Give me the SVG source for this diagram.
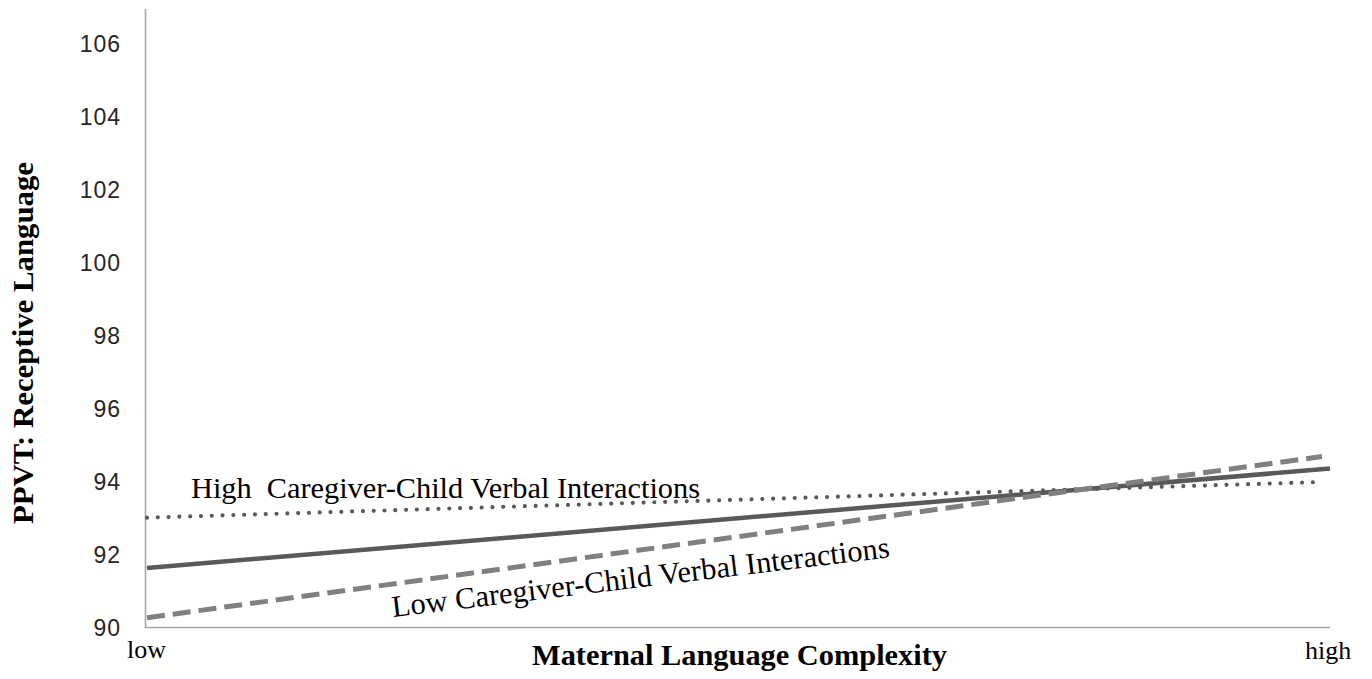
<svg xmlns="http://www.w3.org/2000/svg" width="1372" height="679" viewBox="0 0 1372 679">
<style>
.tick{font-family:"Liberation Sans",Arial,sans-serif;font-size:23px;fill:#262626;text-anchor:end;letter-spacing:1px}
.lbl{font-family:"Liberation Serif","Times New Roman",serif;font-size:30.4px;fill:#000}
.title{font-family:"Liberation Serif","Times New Roman",serif;font-size:30px;font-weight:bold;fill:#000}
.cat{font-family:"Liberation Serif","Times New Roman",serif;font-size:26px;fill:#000}
.axis{stroke:#a6a6a6;stroke-width:1.6;fill:none}
</style>
<rect width="1372" height="679" fill="#fff"/>
<g id="axes">
<line class="axis" x1="145.5" y1="9" x2="145.5" y2="628"/>
<line class="axis" x1="145" y1="627.5" x2="1330" y2="627.5"/>
</g>
<g id="y-ticks">
<text class="tick" x="121" y="51.5">106</text>
<text class="tick" x="121" y="124.5">104</text>
<text class="tick" x="121" y="197.5">102</text>
<text class="tick" x="121" y="270.5">100</text>
<text class="tick" x="121" y="343.5">98</text>
<text class="tick" x="121" y="416.5">96</text>
<text class="tick" x="121" y="489.5">94</text>
<text class="tick" x="121" y="562.5">92</text>
<text class="tick" x="121" y="635.5">90</text>
</g>
<g id="series">
<line x1="147" y1="517.7" x2="1321" y2="482" stroke="#595959" stroke-width="4.2" stroke-linecap="round" stroke-dasharray="0 10.8"/>
<line x1="147" y1="568" x2="1330" y2="468.5" stroke="#595959" stroke-width="4.5"/>
<line x1="147" y1="617.7" x2="1322" y2="456.5" stroke="#808080" stroke-width="5" stroke-dasharray="18 8"/>
</g>
<g id="labels">
<text class="lbl" x="191" y="498" xml:space="preserve" textLength="509">High  Caregiver-Child Verbal Interactions</text>
<text class="lbl" x="393" y="617" transform="rotate(-6.86 393 617)" textLength="501">Low Caregiver-Child Verbal Interactions</text>
<text class="title" x="532" y="665" textLength="415" lengthAdjust="spacingAndGlyphs">Maternal Language Complexity</text>
<text class="title" x="33" y="343" text-anchor="middle" transform="rotate(-90 33 343)" textLength="362" lengthAdjust="spacingAndGlyphs">PPVT: Receptive Language</text>
<text class="cat" x="127" y="658">low</text>
<text class="cat" x="1305" y="659">high</text>
</g>
</svg>
